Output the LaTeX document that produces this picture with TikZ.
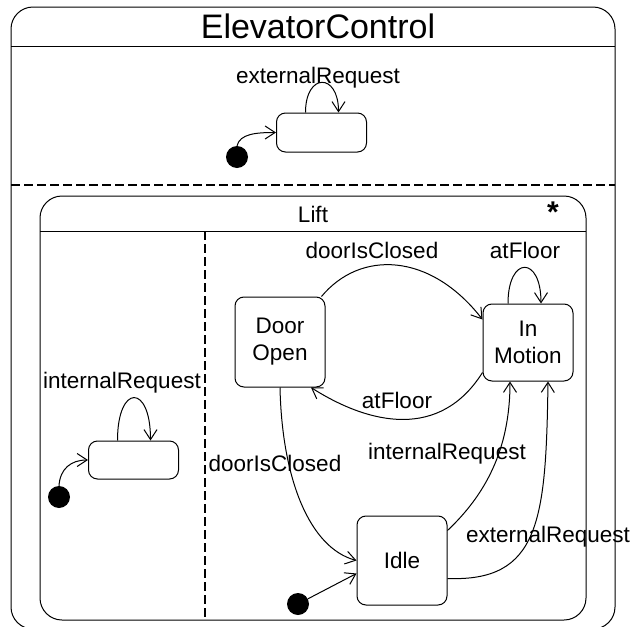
\documentclass[tikz,border=0pt]{standalone}
\usepackage{fontspec}
\setmainfont{Liberation Sans}
\usetikzlibrary{arrows.meta}

\newcommand{\titlefont}{\fontsize{34}{40}\selectfont}
\newcommand{\lblfont}{\fontsize{22.5}{27}\selectfont}

\tikzset{
	frame/.style={line width=1pt, rounded corners=22pt},
	region/.style={line width=1.6pt, dash pattern=on 9pt off 4pt},
	state/.style={draw, line width=1pt, rounded corners=9pt, minimum width=90pt, inner sep=0pt, align=center, font=\lblfont},
	initial/.style={circle, fill=black, minimum size=22pt, inner sep=0pt},
	trans/.style={line width=1pt, arrows={-Straight Barb[length=10pt, width=13pt]}},
	lbl/.style={inner sep=0pt, font=\lblfont}
}

\begin{document}
\begin{tikzpicture}[x=1pt, y=-1pt]
	\useasboundingbox (0,0) rectangle (633,627);
	% ElevatorControl
	\draw [frame] (11,7) rectangle (615,629);
	\draw [line width=1pt] (11,46) -- (615,46);
	\node [font=\titlefont] (ctrlname) at (318,26) {ElevatorControl};
	\draw [region] (11,185) -- (615,185);

	% top region
	\node [state, minimum height=39pt] (waiting) at (321.5,132.5) {};
	\node [initial] (init1) at (237,157) {};
	\draw [trans] (init1.north) .. controls +(3,-12) and +(-20,0) .. (waiting.west);
	\draw [trans] ([xshift=-16pt]waiting.north) .. controls +(0,-40) and +(0,-40) .. ([xshift=17pt]waiting.north);
	\node [lbl] (extreq1) at (318,78) {externalRequest};

	% Lift
	\draw [frame] (40,196) rectangle (586,620);
	\draw [line width=1pt] (40,231) -- (586,231);
	\node [font=\lblfont] (liftname) at (313,214) {Lift};
	\node [font=\fontsize{30}{30}\selectfont\bfseries] (mult) at (553,212) {*};
	\draw [region] (205,231) -- (205,620);

	% left region
	\node [state, minimum height=38pt] (pending) at (133.5,460) {};
	\node [initial] (init2) at (59,497) {};
	\draw [trans] (init2.north) .. controls +(1,-17) and +(-17,0) .. (pending.west);
	\draw [trans] ([xshift=-16pt]pending.north) .. controls +(0,-57) and +(0,-57) .. ([xshift=17pt]pending.north);
	\node [lbl] (intreq1) at (122,383) {internalRequest};

	% right region
	\node [state, minimum height=90pt] (door) at (280,342) {Door\\Open};
	\node [state, minimum height=77pt] (motion) at (528,342.5) {In\\Motion};
	\node [state, minimum height=89pt] (idle) at (402,560.5) {Idle};
	\node [initial] (init3) at (298,604) {};

	\draw [trans] (init3) -- ([yshift=-13pt]idle.west);
	\draw [trans] ([xshift=-4pt]door.north east) .. controls (360,250) and (430,252) .. ([yshift=23pt]motion.west);
	\draw [trans] ([yshift=-30pt]motion.west) .. controls (440,440) and (370,425) .. ([xshift=31pt]door.south);
	\draw [trans] ([xshift=-20pt]motion.north) .. controls +(0,-48) and +(0,-48) .. ([xshift=13pt]motion.north);
	\draw [trans] (door.south) .. controls (282,480) and (310,548) .. (idle.west);
	\draw [trans] ([yshift=30pt]idle.east) .. controls (485,495) and (510,450) .. ([xshift=-18pt]motion.south);
	\draw [trans] ([yshift=-18pt]idle.east) .. controls (540,582) and (546,520) .. ([xshift=20pt]motion.south);

	\node [lbl] (closed1) at (372,250) {doorIsClosed};
	\node [lbl] (floor1) at (525,250) {atFloor};
	\node [lbl] (floor2) at (397,400) {atFloor};
	\node [lbl] (closed2) at (275,463) {doorIsClosed};
	\node [lbl] (intreq2) at (447,454) {internalRequest};
	\node [lbl] (extreq2) at (548,537) {externalRequest};
\end{tikzpicture}
\end{document}
